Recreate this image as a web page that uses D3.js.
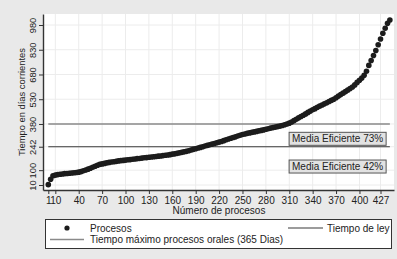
<!DOCTYPE html>
<html>
<head>
<meta charset="utf-8">
<script src="https://cdn.jsdelivr.net/npm/d3@7"></script>
<style>
  body { margin: 0; background: #e9e9e9; }
  svg { display: block; font-family: "Liberation Sans", Arial, sans-serif; }
</style>
</head>
<body>
<svg id="chart" width="397" height="259"></svg>
<script>
// process number (sorted by duration) and days for each one
const numeroProceso = d3.range(1, 440, 3);
const diasProceso = [
  12, 45, 66, 70, 73, 75, 77, 79, 80, 81, 83, 84, 86, 88, 91, 96, 101, 106, 112, 118,
  124, 130, 135, 138, 141, 144, 147, 149, 151, 153, 156, 158, 159, 161, 163, 164, 166, 168, 170, 171,
  173, 175, 176, 178, 180, 181, 183, 185, 186, 188, 190, 192, 194, 197, 199, 202, 205, 208, 211, 214,
  218, 222, 226, 230, 234, 238, 242, 246, 250, 254, 258, 262, 266, 270, 274, 279, 284, 289, 293, 298,
  302, 307, 312, 316, 319, 323, 326, 329, 332, 335, 338, 341, 344, 348, 351, 355, 358, 361, 364, 367,
  371, 375, 380, 385, 392, 400, 409, 417, 425, 433, 441, 450, 458, 466, 473, 481, 488, 495, 502, 509,
  516, 523, 530, 539, 549, 558, 567, 576, 585, 595, 604, 617, 632, 645, 658, 675, 700, 735, 765, 795,
  825, 860, 895, 930, 960, 990, 1010
];

const xTicks = [1, 10, 40, 70, 100, 130, 160, 190, 220, 250, 280, 310, 340, 370, 400, 427];
const yTicks = [10, 100, 242, 380, 530, 680, 830, 980];

const refValues = [380, 242];
const refColors = ["#8a8a8a", "#3a3a3a"];
const refWidths = [1.6, 1.1];
const refLabels = ["Tiempo máximo procesos orales (365 Dias)", "Tiempo de ley"];

const notaLabels = ["Media Eficiente 73%", "Media Eficiente 42%"];
const notaX = [372, 372];
const notaY = [290, 122];

const svg = d3.select("#chart");
const plotLeft = 43, plotRight = 394, plotTop = 14, plotBottom = 190;

const x = d3.scaleLinear().domain([-5.8, 444.3]).range([plotLeft, plotRight]);
const y = d3.scaleLinear().domain([-20.3, 1046.7]).range([plotBottom, plotTop]);

// plot region
svg.append("rect")
  .attr("x", plotLeft).attr("y", plotTop)
  .attr("width", plotRight - plotLeft).attr("height", plotBottom - plotTop)
  .attr("fill", "#fff");

// grid
svg.append("g").selectAll("line")
  .data(xTicks.slice(1))
  .enter().append("line")
  .attr("x1", d => x(d)).attr("x2", d => x(d))
  .attr("y1", plotTop).attr("y2", plotBottom)
  .attr("stroke", "#ececec");
svg.append("g").selectAll("line")
  .data(yTicks)
  .enter().append("line")
  .attr("x1", plotLeft).attr("x2", plotRight)
  .attr("y1", d => y(d)).attr("y2", d => y(d))
  .attr("stroke", "#ececec");

// reference lines
svg.append("g").selectAll("line")
  .data(refValues)
  .enter().append("line")
  .attr("x1", x(1)).attr("x2", x(439))
  .attr("y1", d => y(d)).attr("y2", d => y(d))
  .attr("stroke", (d, i) => refColors[i])
  .attr("stroke-width", (d, i) => refWidths[i]);

// points
svg.append("g").selectAll("circle")
  .data(numeroProceso)
  .enter().append("circle")
  .attr("cx", d => x(d))
  .attr("cy", (d, i) => y(diasProceso[i]))
  .attr("r", 2.8)
  .attr("fill", "#1c1c1c");

// note boxes
const notas = svg.append("g").selectAll("g")
  .data(notaLabels)
  .enter().append("g")
  .attr("transform", (d, i) => `translate(${x(notaX[i])},${y(notaY[i])})`);
notas.append("rect")
  .attr("x", -48.5).attr("y", -6.5)
  .attr("width", 97).attr("height", 13)
  .attr("fill", "#e2e2e2")
  .attr("stroke", "#555");
notas.append("text")
  .attr("text-anchor", "middle")
  .attr("y", 3.6)
  .attr("font-size", 10)
  .attr("fill", "#222")
  .text(d => d);

// axes
const xAxis = svg.append("g")
  .attr("transform", `translate(0,${plotBottom})`)
  .call(d3.axisBottom(x).tickValues(xTicks).tickSize(4).tickPadding(3).tickSizeOuter(0));
const yAxis = svg.append("g")
  .attr("transform", `translate(${plotLeft},0)`)
  .call(d3.axisLeft(y).tickValues(yTicks).tickSize(4).tickPadding(2).tickSizeOuter(0));
[xAxis, yAxis].forEach(a => {
  a.select(".domain").attr("stroke", "#333").attr("stroke-width", 1.4);
  a.selectAll(".tick line").attr("stroke", "#333");
  a.selectAll("text").attr("font-size", 10).attr("fill", "#222")
    .attr("font-family", "Liberation Sans, Arial, sans-serif");
});
yAxis.selectAll(".tick text")
  .attr("transform", "rotate(-90)")
  .attr("text-anchor", "middle")
  .attr("font-size", 9.3)
  .attr("x", 0)
  .attr("dy", 0)
  .attr("y", -7);

// titles
svg.append("text")
  .attr("x", 219).attr("y", 214)
  .attr("text-anchor", "middle")
  .attr("font-size", 10).attr("fill", "#222")
  .text("Número de procesos");
svg.append("text")
  .attr("transform", "translate(25,102) rotate(-90)")
  .attr("text-anchor", "middle")
  .attr("font-size", 9.4).attr("fill", "#222")
  .text("Tiempo en días corrientes");

// legend
const lg = svg.append("g");
lg.append("rect")
  .attr("x", 45.5).attr("y", 219.5)
  .attr("width", 346).attr("height", 29)
  .attr("fill", "#fff").attr("stroke", "#333");
lg.append("circle").attr("cx", 67).attr("cy", 228).attr("r", 2.6).attr("fill", "#1c1c1c");
lg.append("text").attr("x", 90).attr("y", 231.5).attr("font-size", 10).attr("fill", "#222").text("Procesos");
lg.append("line").attr("x1", 288).attr("x2", 323).attr("y1", 228).attr("y2", 228)
  .attr("stroke", refColors[1]).attr("stroke-width", refWidths[1]);
lg.append("text").attr("x", 327).attr("y", 231.5).attr("font-size", 10).attr("fill", "#222").text(refLabels[1]);
lg.append("line").attr("x1", 50).attr("x2", 84).attr("y1", 239.5).attr("y2", 239.5)
  .attr("stroke", refColors[0]).attr("stroke-width", refWidths[0]);
lg.append("text").attr("x", 90).attr("y", 243).attr("font-size", 10).attr("fill", "#222").text(refLabels[0]);
</script>
</body>
</html>
